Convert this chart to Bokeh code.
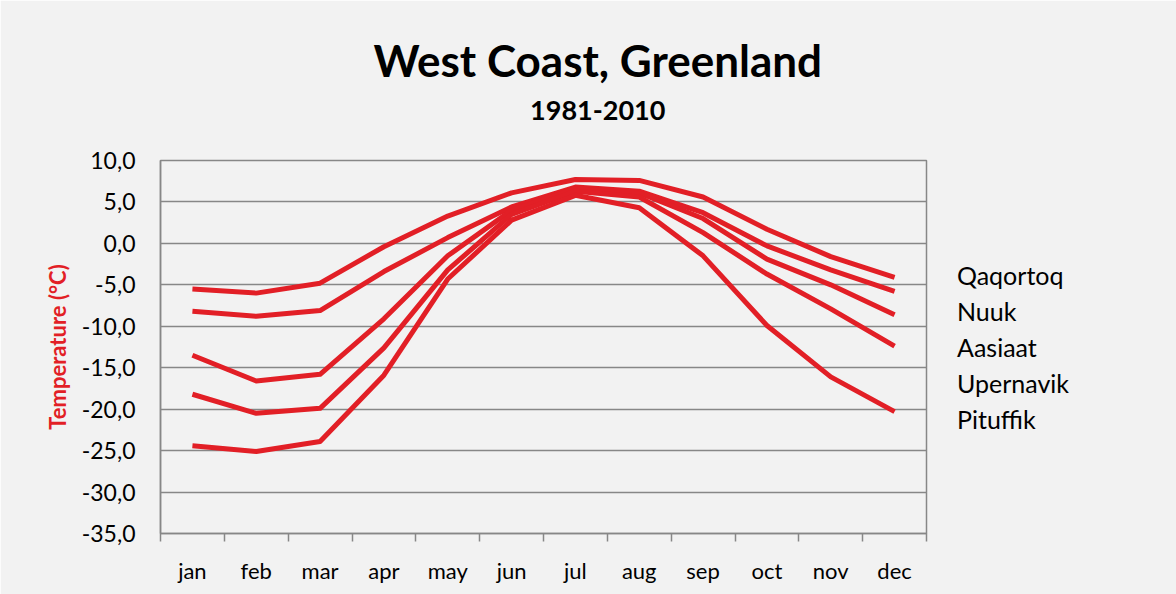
from bokeh.plotting import figure
from bokeh.models import (FactorRange, Range1d, LinearAxis, FixedTicker,
                          Legend, LegendItem, CustomJSTickFormatter)
from bokeh.embed import file_html
from bokeh.resources import INLINE

months = ["jan", "feb", "mar", "apr", "may", "jun", "jul", "aug", "sep", "oct", "nov", "dec"]
stations = ["Qaqortoq", "Nuuk", "Aasiaat", "Upernavik", "Pituffik"]

qaqortoq = [-5.5, -6.0, -4.8, -0.4, 3.3, 6.1, 7.7, 7.6, 5.6, 1.7, -1.6, -4.1]
nuuk = [-8.2, -8.8, -8.1, -3.4, 0.7, 4.4, 6.8, 6.3, 3.7, -0.3, -3.2, -5.8]
aasiaat = [-13.5, -16.6, -15.8, -9.1, -1.5, 4.0, 6.6, 6.1, 3.0, -1.9, -5.0, -8.6]
upernavik = [-18.2, -20.5, -19.9, -12.6, -3.2, 3.5, 6.3, 5.6, 1.3, -3.7, -7.9, -12.4]
pituffik = [-24.4, -25.1, -23.9, -15.9, -4.3, 2.8, 5.8, 4.3, -1.5, -9.9, -16.1, -20.3]
series = [qaqortoq, nuuk, aasiaat, upernavik, pituffik]

y_ticks = [-35, -30, -25, -20, -15, -10, -5, 0, 5, 10]
y_tick_labels = ["-35,0", "-30,0", "-25,0", "-20,0", "-15,0", "-10,0", "-5,0", "0,0", "5,0", "10,0"]

title_text = "West Coast, Greenland"
subtitle_text = "1981-2010"
y_label = "Temperature (°C)"

FONT = "Lato"
RED = "#e21f26"
GRAY = "#878787"
BG = "#f2f2f2"
TITLE_CENTRE = 6.85   # horizontal centre of the headings, in category units

p = figure(frame_width=766, frame_height=373, x_range=FactorRange(*months), y_range=Range1d(-35, 10),
           output_backend="svg", toolbar_location=None, x_axis_type=None,
           min_border_left=160, min_border_right=250, min_border_top=160, min_border_bottom=61,
           background_fill_color=BG, border_fill_color=BG)
p.outline_line_color = GRAY
p.outline_line_width = 1.5

# y axis
yax = p.yaxis[0]
yax.ticker = FixedTicker(ticks=y_ticks)
yax.formatter = CustomJSTickFormatter(args=dict(tick_values=y_ticks, tick_texts=y_tick_labels),
                                      code="const i = tick_values.indexOf(tick); return i >= 0 ? tick_texts[i] : '';")
yax.major_tick_out = 0
yax.major_tick_in = 0
yax.minor_tick_out = 0
yax.minor_tick_in = 0
yax.axis_line_color = GRAY
yax.axis_line_width = 1.5
yax.major_label_standoff = 25
yax.major_label_text_font = FONT
yax.major_label_text_font_size = "23px"
yax.major_label_text_color = "#000000"
yax.axis_label = y_label
yax.axis_label_text_font = FONT
yax.axis_label_text_font_size = "22px"
yax.axis_label_text_font_style = "bold"
yax.axis_label_text_color = RED
yax.axis_label_standoff = 8

p.ygrid.ticker = FixedTicker(ticks=y_ticks)
p.ygrid.grid_line_color = GRAY
p.ygrid.grid_line_width = 1.5

# x axis: labels at category centres, ticks between categories
centres = [i + 0.5 for i in range(len(months))]
bounds = list(range(len(months) + 1))
xax = LinearAxis(ticker=FixedTicker(ticks=centres, minor_ticks=bounds),
                 formatter=CustomJSTickFormatter(args=dict(month_names=months),
                                                 code="return month_names[Math.floor(tick)];"))
xax.major_tick_out = 0
xax.major_tick_in = 0
xax.minor_tick_out = 8
xax.minor_tick_in = 0
xax.minor_tick_line_color = GRAY
xax.minor_tick_line_width = 1.5
xax.axis_line_color = GRAY
xax.axis_line_width = 1.5
xax.major_label_standoff = 15
xax.major_label_text_font = FONT
xax.major_label_text_font_size = "22px"
xax.major_label_text_color = "#000000"
p.add_layout(xax, "below")


def heading_axis(text, size, standoff):
    ax = LinearAxis(ticker=FixedTicker(ticks=[TITLE_CENTRE], minor_ticks=[]),
                    formatter=CustomJSTickFormatter(args=dict(heading=text), code="return heading;"))
    ax.axis_line_color = None
    ax.major_tick_line_color = None
    ax.minor_tick_line_color = None
    ax.major_tick_out = 0
    ax.major_tick_in = 0
    ax.minor_tick_out = 0
    ax.minor_tick_in = 0
    ax.major_label_standoff = standoff
    ax.major_label_text_font = FONT
    ax.major_label_text_font_size = size
    ax.major_label_text_font_style = "bold"
    ax.major_label_text_color = "#000000"
    return ax


p.add_layout(heading_axis(subtitle_text, "27px", 41), "above")
p.add_layout(heading_axis(title_text, "44px", 12), "above")

renderers = []
for name, vals in zip(stations, series):
    r = p.line(months, vals, line_color=RED, line_width=5, line_join="round", line_cap="butt")
    renderers.append(r)

legend = Legend(items=[LegendItem(label=s, renderers=[r]) for s, r in zip(stations, renderers)],
                location="center_left", glyph_width=0, glyph_height=36, label_height=36,
                label_standoff=0, padding=0, margin=31, spacing=0,
                label_text_font=FONT, label_text_font_size="25px", label_text_color="#000000",
                background_fill_alpha=0, border_line_alpha=0)
p.add_layout(legend, "right")

open("out.html", "w").write(file_html(p, INLINE))
